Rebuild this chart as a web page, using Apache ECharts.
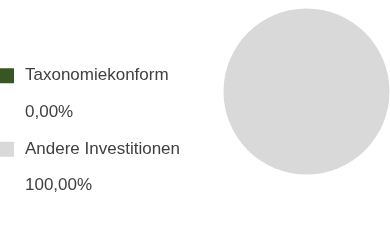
<!DOCTYPE html>
<html>
<head>
<meta charset="utf-8">
<script src="https://cdn.jsdelivr.net/npm/echarts@6/dist/echarts.min.js"></script>
<style>
  html, body { margin: 0; padding: 0; background: #fff; }
  #chart { width: 390px; height: 251px; }
</style>
</head>
<body>
<div id="chart"></div>
<script>
  // chart data
  var names = ['Taxonomiekonform', 'Andere Investitionen'];
  var values = [0, 100];
  var colors = ['#375623', '#d9d9d9'];

  var total = values.reduce(function (a, b) { return a + b; }, 0);
  function pct(name) {
    var v = values[names.indexOf(name)];
    return (v / total * 100).toFixed(2).replace('.', ',') + '%';
  }

  var chart = echarts.init(document.getElementById('chart'));
  var option = {
    backgroundColor: '#fff',
    animation: false,
    color: colors,
    legend: {
      orient: 'vertical',
      left: 0,
      top: 21,
      padding: 0,
      itemGap: -36,
      itemWidth: 14,
      itemHeight: 15,
      icon: 'rect',
      selectedMode: false,
      data: names,
      formatter: function (name) {
        return '\n' + name + '\n' + pct(name);
      },
      textStyle: {
        fontFamily: 'Liberation Sans, Arial, sans-serif',
        fontSize: 17,
        color: '#404040',
        lineHeight: 36.5,
        padding: [0, 0, 0, 6]
      }
    },
    series: [{
      type: 'pie',
      center: [306.5, 91.5],
      radius: 83,
      silent: true,
      label: { show: false },
      labelLine: { show: false },
      itemStyle: { borderWidth: 0 },
      emphasis: { disabled: true },
      data: names.map(function (n, i) {
        return { name: n, value: values[i] };
      })
    }]
  };
  chart.setOption(option);
</script>
</body>
</html>
